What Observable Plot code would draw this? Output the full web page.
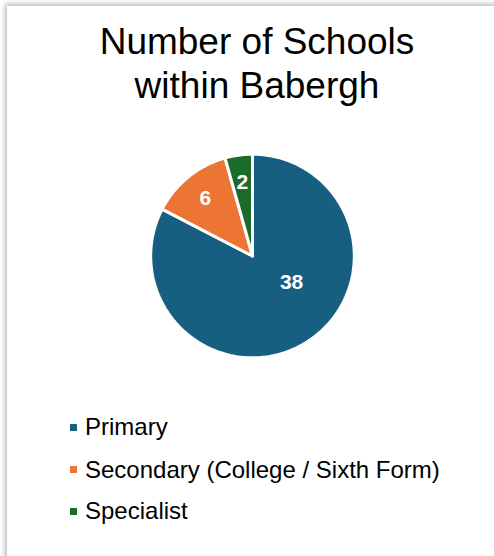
<!DOCTYPE html>
<html>
<head>
<meta charset="utf-8">
<script src="https://cdn.jsdelivr.net/npm/d3@7"></script>
<script src="https://cdn.jsdelivr.net/npm/@observablehq/plot@0.6"></script>
<style>
  html, body { margin: 0; padding: 0; background: #ffffff; width: 494px; height: 556px; overflow: hidden; }
  body { position: relative; font-family: "Liberation Sans", Arial, sans-serif; }
  #frame { position: absolute; left: 7px; top: 6px; width: 500px; height: 560px; background: #fff;
           box-shadow: -2px -2px 5px rgba(0,0,0,0.28); }
  .title { position: absolute; left: 0; width: 514px; text-align: center; font-size: 37px; line-height: 44px; color: #000; white-space: nowrap; }
  .leg { position: absolute; left: 85px; font-size: 24px; line-height: 28px; color: #000; white-space: nowrap; }
  .sw { position: absolute; left: 70px; width: 7px; height: 7px; }
  #chart { position: absolute; left: 0; top: 125px; }
</style>
</head>
<body>
<div id="frame"></div>
<div class="title" style="top:20px">Number of Schools</div>
<div class="title" style="top:64px">within Babergh</div>
<div id="chart"></div>
<div id="legend"></div>
<script>
// ---- data ----
const categories = ["Primary", "Secondary (College / Sixth Form)", "Specialist"];
const values = [38, 6, 2];
const colors = ["#175F80", "#EC7533", "#1C6B28"];

// ---- layout (not data) ----
const outerR = 1.018;
const labelLayout = [{t: 0.416, r: 0.47}, {t: 0.5, r: 0.748}, {t: 0.5, r: 0.748}];

const arcs = d3.pie().sort(null).value(d => d.value)(
  categories.map((name, i) => ({name, value: values[i]}))
);

// polygon points per slice (y up, angles clockwise from 12 o'clock)
const polys = [];
arcs.forEach(a => {
  const n = Math.max(8, Math.ceil((a.endAngle - a.startAngle) / (Math.PI / 180)));
  polys.push({name: a.data.name, x: 0, y: 0});
  for (let k = 0; k <= n; k++) {
    const ang = a.startAngle + (a.endAngle - a.startAngle) * k / n;
    polys.push({name: a.data.name, x: outerR * Math.sin(ang), y: outerR * Math.cos(ang)});
  }
  polys.push({name: a.data.name, x: 0, y: 0});
});

const labels = arcs.map((a, i) => {
  const L = labelLayout[i];
  const ang = a.startAngle + (a.endAngle - a.startAngle) * L.t;
  return {name: a.data.name, value: a.data.value, x: L.r * Math.sin(ang), y: L.r * Math.cos(ang)};
});

const chart = Plot.plot({
  width: 494,
  height: 260,
  margin: 0,
  x: {domain: [-2.52, 2.42], axis: null},
  y: {domain: [-1.295, 1.305], axis: null},
  color: {domain: categories, range: colors},
  style: {background: "transparent", fontFamily: "'Liberation Sans', Arial, sans-serif"},
  marks: [
    Plot.line(polys, {x: "x", y: "y", z: "name", fill: "name", stroke: "white", strokeWidth: 3, strokeLinejoin: "miter", curve: "linear"}),
    Plot.text(labels, {x: "x", y: "y", text: d => String(d.value), fill: "white", fontSize: 21, fontWeight: "bold"})
  ]
});
document.getElementById("chart").appendChild(chart);

// legend
const legend = document.getElementById("legend");
const baseTops = [413, 455.5, 497];
categories.forEach((c, i) => {
  const sw = document.createElement("div");
  sw.className = "sw";
  sw.style.top = (baseTops[i] + 10.5) + "px";
  sw.style.background = colors[i];
  legend.appendChild(sw);
  const t = document.createElement("div");
  t.className = "leg";
  t.style.top = baseTops[i] + "px";
  t.textContent = c;
  legend.appendChild(t);
});
</script>
</body>
</html>
